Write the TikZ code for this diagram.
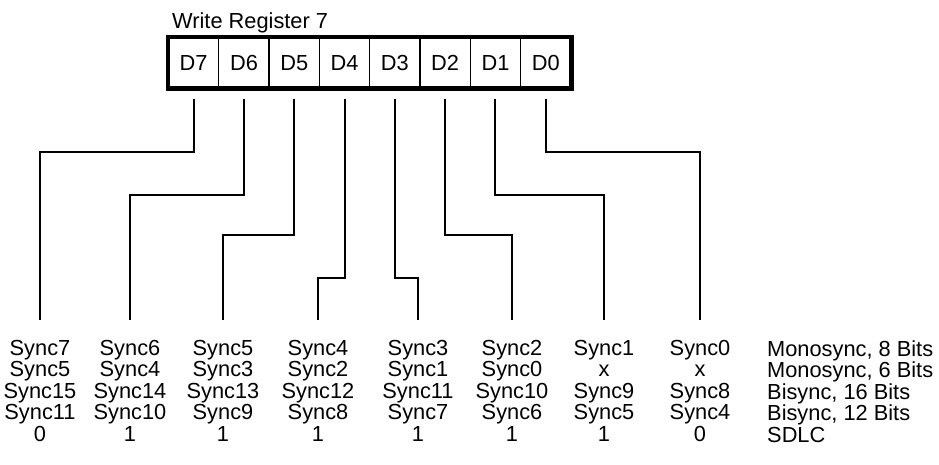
\documentclass[tikz,border=0pt]{standalone}
\usepackage{fontspec}
\setmainfont{Liberation Sans}
\begin{document}
\begin{tikzpicture}[x=1pt,y=-1pt,
  txt/.style={font=\fontsize{21.8}{21.5}\selectfont, inner sep=0pt},
  cell/.style={txt, draw, line width=1.3pt, minimum width=50.3pt, minimum height=50.4pt, anchor=center},
  col/.style={txt, align=center, anchor=north},
  wire/.style={line width=2pt}
]
\useasboundingbox (0,0) rectangle (939,464);
\node[txt, anchor=base west] (title) at (172,28.5) {Write Register 7};
% register cells
\node[cell] (d7) at (193.65,62.7) {D7};
\node[cell] (d6) at (243.95,62.7) {D6};
\node[cell] (d5) at (294.25,62.7) {D5};
\node[cell] (d4) at (344.55,62.7) {D4};
\node[cell] (d3) at (394.85,62.7) {D3};
\node[cell] (d2) at (445.15,62.7) {D2};
\node[cell] (d1) at (495.45,62.7) {D1};
\node[cell] (d0) at (545.75,62.7) {D0};
\draw[line width=4.5pt] (d7.north west) rectangle (d0.south east);
% columns
\node[col] (c7) at (40,340) {Sync7\\Sync5\\Sync15\\Sync11\\0};
\node[col] (c6) at (130,340) {Sync6\\Sync4\\Sync14\\Sync10\\1};
\node[col] (c5) at (223,340) {Sync5\\Sync3\\Sync13\\Sync9\\1};
\node[col] (c4) at (318,340) {Sync4\\Sync2\\Sync12\\Sync8\\1};
\node[col] (c3) at (418,340) {Sync3\\Sync1\\Sync11\\Sync7\\1};
\node[col] (c2) at (512,340) {Sync2\\Sync0\\Sync10\\Sync6\\1};
\node[col] (c1) at (604,340) {Sync1\\x\\Sync9\\Sync5\\1};
\node[col] (c0) at (700,340) {Sync0\\x\\Sync8\\Sync4\\0};
\node[txt, align=left, anchor=north west] (modes) at (767,340) {Monosync, 8 Bits\\Monosync, 6 Bits\\Bisync, 16 Bits\\Bisync, 12 Bits\\SDLC};
% wires
\draw[wire] ([yshift=-10pt]d7.south) -- ++(0,53) -| ([yshift=20pt]c7.north);
\draw[wire] ([yshift=-10pt]d6.south) -- ++(0,96) -| ([yshift=20pt]c6.north);
\draw[wire] ([yshift=-10pt]d5.south) -- ++(0,136) -| ([yshift=20pt]c5.north);
\draw[wire] ([yshift=-10pt]d4.south) -- ++(0,179) -| ([yshift=20pt]c4.north);
\draw[wire] ([yshift=-10pt]d3.south) -- ++(0,179) -| ([yshift=20pt]c3.north);
\draw[wire] ([yshift=-10pt]d2.south) -- ++(0,136) -| ([yshift=20pt]c2.north);
\draw[wire] ([yshift=-10pt]d1.south) -- ++(0,96) -| ([yshift=20pt]c1.north);
\draw[wire] ([yshift=-10pt]d0.south) -- ++(0,53) -| ([yshift=20pt]c0.north);
\end{tikzpicture}
\end{document}
